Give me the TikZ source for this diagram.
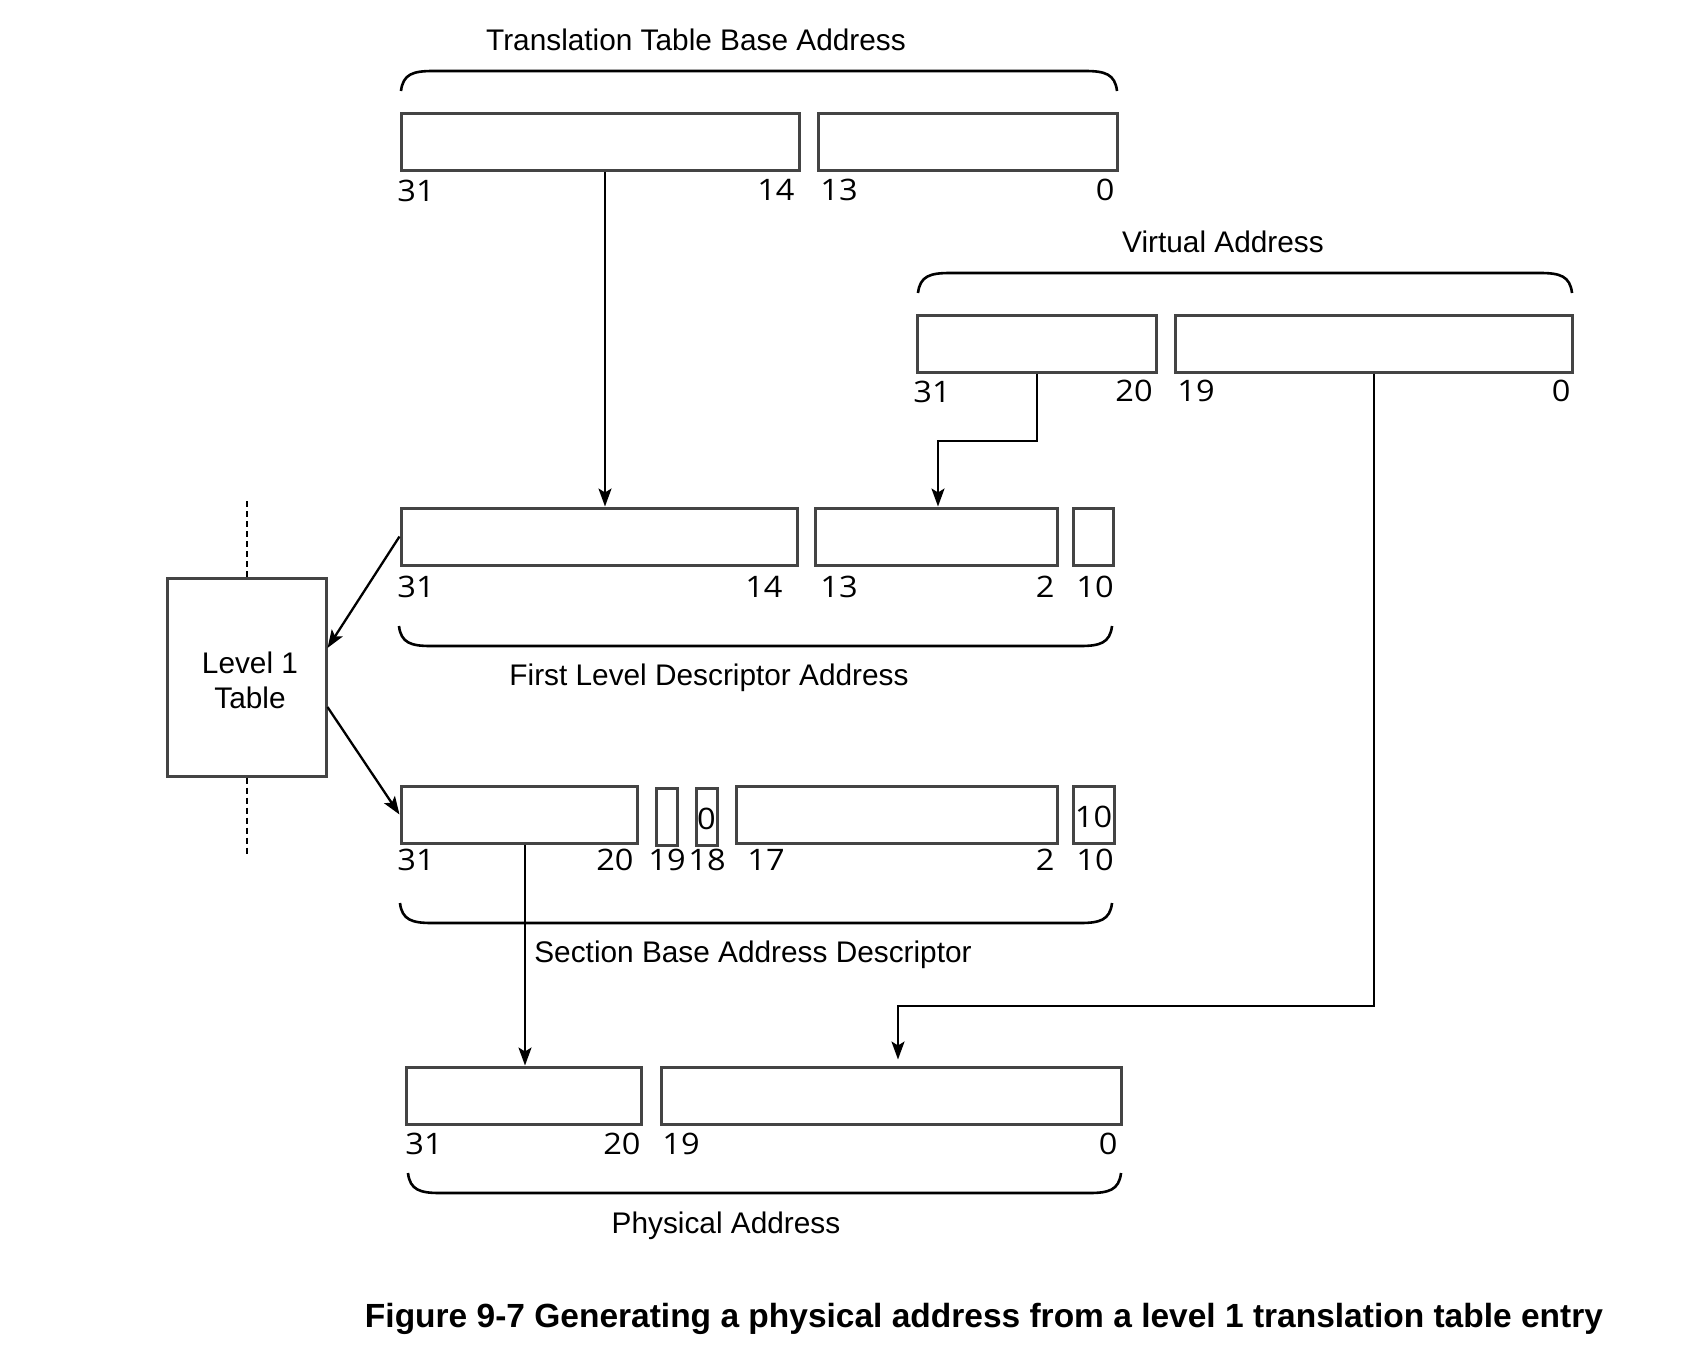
\documentclass[tikz,border=0pt]{standalone}
\usepackage{fontspec}
\setmainfont{Liberation Sans}
\newfontfamily\numfont[FakeStretch=1.1]{Open Sans}
\usetikzlibrary{arrows.meta,fit,calc}
\definecolor{boxgray}{HTML}{444444}
\newcommand{\bracetop}[3]{%
  \draw[brc] (#1,#3+20) .. controls (#1+2,#3+3) and (#1+12,#3) .. (#1+32,#3) -- (#2-32,#3) .. controls (#2-12,#3) and (#2-2,#3+3) .. (#2,#3+20);}
\newcommand{\bracebot}[3]{%
  \draw[brc] (#1,#3-20) .. controls (#1+2,#3-3) and (#1+12,#3) .. (#1+32,#3) -- (#2-32,#3) .. controls (#2-12,#3) and (#2-2,#3-3) .. (#2,#3-20);}
\tikzset{
  fld/.style={draw=boxgray, line width=1.5pt, inner sep=0pt, fill=white},
  num/.style={font=\numfont\fontsize{14.8}{17}\selectfont, inner sep=0pt},
  lbl/.style={font=\fontsize{14.9}{17.5}\selectfont, inner sep=0pt},
  conn/.style={line width=1.15pt, black},
  arr/.style={conn, -{Stealth[length=9pt,width=6.5pt,inset=2pt]}},
  brc/.style={line width=1.3pt, black},
  dsh/.style={line width=1pt, dash pattern=on 3pt off 2pt},
}
\begin{document}
\begin{tikzpicture}[x=0.5pt,y=-0.5pt]
\fill[white] (0,0) rectangle (1698,1356);
\useasboundingbox (0,0) rectangle (1698,1356);

% ---- Translation table base address
\node[lbl, anchor=base] (t1) at (696,50) {Translation Table Base Address};
\bracetop{401}{1117}{71}
\node[fld, fit={(401,113) (799,170)}] (tb1) {};
\node[fld, fit={(818,113) (1117,170)}] (tb2) {};
\node[num, anchor=base west] (n1) at (397,201) {31};
\node[num, anchor=base east] (n2) at (795,200) {14};
\node[num, anchor=base west] (n3) at (820,200) {13};
\node[num, anchor=base east] (n4) at (1115,200) {0};

% ---- Virtual address
\node[lbl, anchor=base] (t2) at (1223,252) {Virtual Address};
\bracetop{918}{1572}{273}
\node[fld, fit={(917,315) (1156,372)}] (va1) {};
\node[fld, fit={(1175,315) (1572,372)}] (va2) {};
\node[num, anchor=base west] (n5) at (913,402) {31};
\node[num, anchor=base east] (n6) at (1153,401) {20};
\node[num, anchor=base west] (n7) at (1177,401) {19};
\node[num, anchor=base east] (n8) at (1571,401) {0};

% ---- First level descriptor address
\node[fld, fit={(401,508) (797,565)}] (fd1) {};
\node[fld, fit={(815,508) (1057,565)}] (fd2) {};
\node[fld, fit={(1073,508) (1113,565)}] (fd3) {};
\node[num, anchor=base west] (n9) at (397,597) {31};
\node[num, anchor=base east] (n10) at (783,597) {14};
\node[num, anchor=base west] (n11) at (820,597) {13};
\node[num, anchor=base east] (n12) at (1055,597) {2};
\node[num, anchor=base west] (n13) at (1076,597) {10};
\bracebot{399}{1112}{646}
\node[lbl, anchor=base] (t3) at (709,685) {First Level Descriptor Address};

% ---- Level 1 table
\node[fld, fit={(167,578) (326,776)}] (lvl) {};
\node[lbl, anchor=base] (lt1) at (250,673) {Level 1};
\node[lbl, anchor=base] (lt2) at (250,708) {Table};
\coordinate (d1) at (246.5,498);
\coordinate (d2) at (246.5,855);
\draw[dsh] (lvl.north) -- (d1);
\draw[dsh] (lvl.south) -- (d2);

% ---- Section base address descriptor
\node[fld, fit={(401,786) (637,843)}] (sb1) {};
\node[fld, fit={(656,788) (677,845)}] (sb2) {};
\node[fld, fit={(696,788) (717,845)}] (sb3) {};
\node[num, anchor=base] (z0) at (sb3 |- 0,829) {0};
\node[fld, fit={(736,786) (1057,843)}] (sb4) {};
\node[fld, fit={(1073,786) (1114,843)}] (sb5) {};
\node[num, anchor=base] (z1) at (sb5 |- 0,827) {10};
\node[num, anchor=base west] (n14) at (397,870) {31};
\node[num, anchor=base east] (n15) at (634,870) {20};
\node[num, anchor=base west] (n16) at (648,870) {19};
\node[num, anchor=base west] (n17) at (688,870) {18};
\node[num, anchor=base west] (n18) at (747,870) {17};
\node[num, anchor=base east] (n19) at (1055,870) {2};
\node[num, anchor=base west] (n20) at (1076,870) {10};
\bracebot{400}{1112}{923}
\node[lbl, anchor=base] (t4) at (753,962) {Section Base Address Descriptor};

% ---- Physical address
\node[fld, fit={(406,1067) (641,1124)}] (pa1) {};
\node[fld, fit={(661,1067) (1121,1124)}] (pa2) {};
\node[num, anchor=base west] (n21) at (405,1154) {31};
\node[num, anchor=base east] (n22) at (641,1154) {20};
\node[num, anchor=base west] (n23) at (662,1154) {19};
\node[num, anchor=base east] (n24) at (1118,1154) {0};
\bracebot{408}{1121}{1193}
\node[lbl, anchor=base] (t5) at (726,1233) {Physical Address};

% ---- connectors
\coordinate (x1) at (605,0);
\draw[arr] (tb1.south -| x1) -- (fd1.north -| x1);
\coordinate (e1) at (1037,441);
\coordinate (e2) at (938,441);
\draw[arr] (va1.south -| e1) -- (e1) -- (e2) -- (fd2.north -| e2);
\coordinate (e3) at (1374,1006);
\coordinate (e4) at (898,1006);
\draw[arr, shorten >=3pt] (va2.south -| e3) -- (e3) -- (e4) -- (pa2.north -| e4);
\coordinate (x2) at (525,0);
\draw[arr] (sb1.south -| x2) -- (pa1.north -| x2);
\draw[arr] (fd1.west) -- ($(lvl.east)+(0,-29)$);
\draw[arr] ($(lvl.east)+(0,30)$) -- (sb1.west);

% ---- caption
\node[font=\bfseries\fontsize{16.75}{20}\selectfont, anchor=base, inner sep=0pt] (cap) at (984,1327) {Figure 9-7 Generating a physical address from a level 1 translation table entry};
\end{tikzpicture}
\end{document}
